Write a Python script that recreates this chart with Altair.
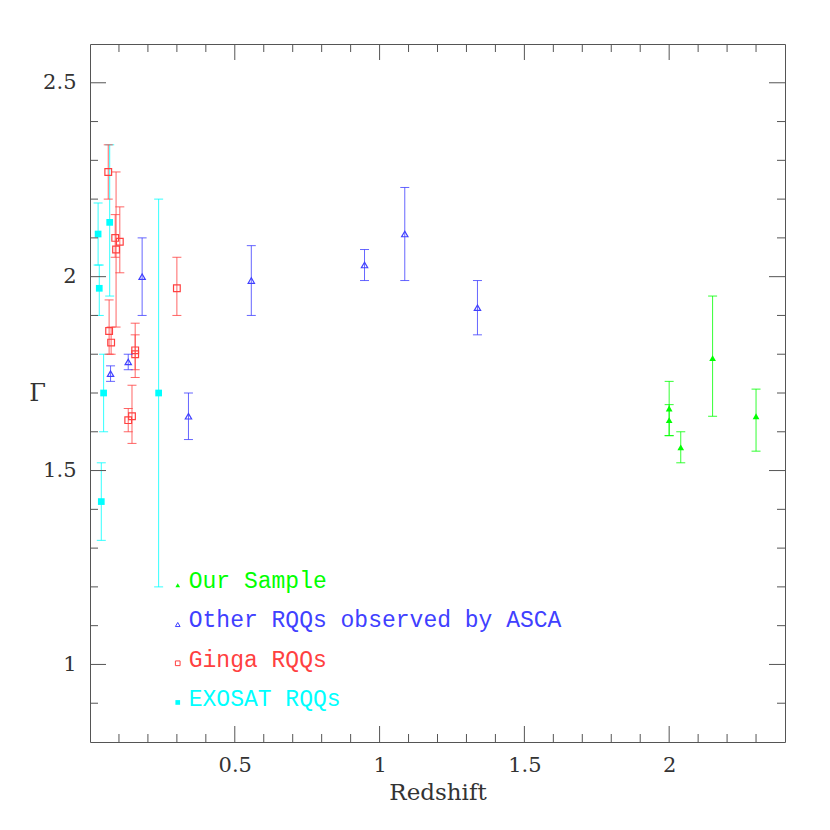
import altair as alt
import pandas as pd

W, H = 695, 698
XDOM = [0, 2.4]
YDOM = [0.8, 2.6]

# --- data ---
ours_z = [2.00, 2.00, 2.04, 2.15, 2.30]
ours_g = [1.66, 1.63, 1.56, 1.79, 1.64]
ours_lo = [1.59, 1.59, 1.52, 1.64, 1.55]
ours_hi = [1.73, 1.67, 1.60, 1.95, 1.71]

asca_z = [0.071, 0.132, 0.18, 0.34, 0.557, 0.948, 1.087, 1.338]
asca_g = [1.75, 1.78, 2.00, 1.64, 1.99, 2.03, 2.11, 1.92]
asca_lo = [1.73, 1.76, 1.90, 1.58, 1.90, 1.99, 1.99, 1.85]
asca_hi = [1.77, 1.80, 2.10, 1.70, 2.08, 2.07, 2.23, 1.99]

ginga_z = [0.063, 0.087, 0.090, 0.103, 0.066, 0.073, 0.156, 0.156, 0.132, 0.145, 0.30]
ginga_g = [2.27, 2.10, 2.07, 2.09, 1.86, 1.83, 1.81, 1.80, 1.63, 1.64, 1.97]
ginga_lo = [2.20, 2.05, 1.87, 2.01, 1.80, 1.80, 1.76, 1.74, 1.60, 1.57, 1.90]
ginga_hi = [2.34, 2.16, 2.27, 2.18, 1.94, 1.87, 1.88, 1.85, 1.66, 1.72, 2.05]

exo_z = [0.028, 0.032, 0.068, 0.047, 0.237, 0.039]
exo_g = [2.11, 1.97, 2.14, 1.70, 1.70, 1.42]
exo_lo = [2.03, 1.90, 1.95, 1.60, 1.20, 1.32]
exo_hi = [2.19, 2.03, 2.34, 1.80, 2.20, 1.52]

legend_labels = ["Our Sample", "Other RQQs observed by ASCA", "Ginga RQQs", "EXOSAT RQQs"]
legend_text_x = [0.341, 0.341, 0.341, 0.341]
legend_text_y = [1.196, 1.096, 0.993, 0.894]
legend_mark_x = [0.303, 0.303, 0.303, 0.303]
legend_mark_y = [1.204, 1.103, 1.003, 0.902]

x_major = [0.5, 1.0, 1.5, 2.0]
x_minor = [0.1, 0.2, 0.3, 0.4, 0.6, 0.7, 0.8, 0.9, 1.1, 1.2, 1.3, 1.4,
           1.6, 1.7, 1.8, 1.9, 2.1, 2.2, 2.3]
y_major = [1.0, 1.5, 2.0, 2.5]
y_minor = [0.9, 1.1, 1.2, 1.3, 1.4, 1.6, 1.7, 1.8, 1.9, 2.1, 2.2, 2.3, 2.4]

# --- styles ---
GREEN = "#00ff00"
BLUE = "#4040ff"
RED = "#ff4040"
CYAN = "#00ffff"
AXIS_COL = "#555555"
TEXT_COL = "#333333"

xs = alt.Scale(domain=XDOM, nice=False, zero=False)
ys = alt.Scale(domain=YDOM, nice=False, zero=False)

xaxis = alt.Axis(values=x_major, format="~g", ticks=False, domain=False, grid=False,
                 title="Redshift", labelFont="DejaVu Serif", labelFontSize=21,
                 labelColor=TEXT_COL, labelPadding=12, titleFont="DejaVu Serif",
                 titleFontSize=23, titleFontWeight="normal", titleColor=TEXT_COL,
                 titlePadding=6)
yaxis = alt.Axis(values=y_major, format="~g", ticks=False, domain=False, grid=False,
                 title="Γ", labelFont="DejaVu Serif", labelFontSize=21,
                 labelColor=TEXT_COL, labelPadding=14, titleFont="DejaVu Serif",
                 titleFontSize=24, titleFontWeight="normal", titleColor=TEXT_COL,
                 titleAngle=0, titleX=-53, titleY=H / 2, titleAlign="center",
                 titleBaseline="middle")


def X(f):
    return alt.X(f, type="quantitative", scale=xs, axis=xaxis)


def Y(f):
    return alt.Y(f, type="quantitative", scale=ys, axis=yaxis)


def series(z, g, lo, hi, color, shape, filled, size):
    df = pd.DataFrame(dict(z=z, g=g, lo=lo, hi=hi))
    base = alt.Chart(df)
    bar = base.mark_rule(color=color, strokeWidth=1, opacity=0.8).encode(
        x=X("z"), y=Y("lo"), y2="hi")
    cap_hi = base.mark_rule(color=color, strokeWidth=1, opacity=0.8,
                            xOffset=-4.5, x2Offset=4.5).encode(
        x=X("z"), x2="z", y=Y("hi"))
    cap_lo = base.mark_rule(color=color, strokeWidth=1, opacity=0.8,
                            xOffset=-4.5, x2Offset=4.5).encode(
        x=X("z"), x2="z", y=Y("lo"))
    pt = base.mark_point(shape=shape, filled=filled, size=size, color=color,
                         opacity=1, strokeWidth=1.2).encode(x=X("z"), y=Y("g"))
    return [bar, cap_hi, cap_lo, pt]


layers = []
layers += series(exo_z, exo_g, exo_lo, exo_hi, CYAN, "square", True, 45)
layers += series(ginga_z, ginga_g, ginga_lo, ginga_hi, RED, "square", False, 45)
layers += series(asca_z, asca_g, asca_lo, asca_hi, BLUE, "triangle-up", False, 40)
layers += series(ours_z, ours_g, ours_lo, ours_hi, GREEN, "triangle-up", True, 45)

# --- inward ticks on all four sides ---
for vals, ln in ((x_major, 16), (x_minor, 8)):
    tdf = pd.DataFrame(dict(v=vals))
    layers.append(alt.Chart(tdf).mark_rule(color=AXIS_COL, strokeWidth=1).encode(
        x=X("v"), y=alt.value(H), y2=alt.value(H - ln)))
    layers.append(alt.Chart(tdf).mark_rule(color=AXIS_COL, strokeWidth=1).encode(
        x=X("v"), y=alt.value(0), y2=alt.value(ln)))
for vals, ln in ((y_major, 16), (y_minor, 8)):
    tdf = pd.DataFrame(dict(v=vals))
    layers.append(alt.Chart(tdf).mark_rule(color=AXIS_COL, strokeWidth=1).encode(
        y=Y("v"), x=alt.value(0), x2=alt.value(ln)))
    layers.append(alt.Chart(tdf).mark_rule(color=AXIS_COL, strokeWidth=1).encode(
        y=Y("v"), x=alt.value(W), x2=alt.value(W - ln)))

# --- legend (in-plot text) ---
leg_colors = [GREEN, BLUE, RED, CYAN]
leg_df = pd.DataFrame(dict(label=legend_labels, tx=legend_text_x, ty=legend_text_y,
                           mx=legend_mark_x, my=legend_mark_y))
cscale = alt.Scale(domain=legend_labels, range=leg_colors)
layers.append(alt.Chart(leg_df).mark_text(align="left", baseline="alphabetic",
                                          font="Liberation Mono", fontSize=23).encode(
    x=X("tx"), y=Y("ty"), text="label:N",
    color=alt.Color("label:N", scale=cscale, legend=None)))
leg_shapes = [("triangle-up", True), ("triangle-up", False), ("square", False), ("square", True)]
for i, (shp, fil) in enumerate(leg_shapes):
    sub = leg_df.iloc[[i]]
    layers.append(alt.Chart(sub).mark_point(shape=shp, filled=fil, size=22, opacity=1,
                                            strokeWidth=1).encode(
        x=X("mx"), y=Y("my"),
        color=alt.Color("label:N", scale=cscale, legend=None)))

chart = alt.layer(*layers).properties(
    width=W, height=H,
    autosize=alt.AutoSizeParams(type="none"),
    padding={"left": 82, "top": 36, "right": 30, "bottom": 70},
    background="white",
).configure_view(stroke=AXIS_COL, strokeWidth=1)

chart.save("out.html", embed_options={"renderer": "svg", "actions": False})
